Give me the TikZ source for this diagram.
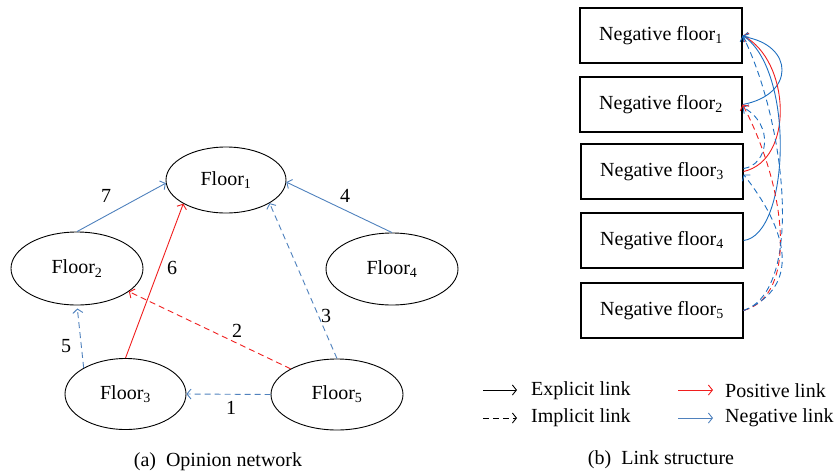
\documentclass[tikz,border=0pt]{standalone}
\usepackage{fontspec}
\setmainfont{Liberation Serif}
\usetikzlibrary{arrows.meta,shapes.geometric}
\definecolor{lblue}{HTML}{4F81BD}
\definecolor{rblue}{HTML}{1F6FC0}
\definecolor{lred}{HTML}{F01E1E}
\begin{document}
\begin{tikzpicture}[x=1pt,y=-1pt,
  font=\fontsize{20}{24}\selectfont,
  fl/.style={ellipse, draw, line width=0.9pt, inner sep=0pt},
  box/.style={draw, line width=1.2pt, minimum width=162pt, minimum height=55pt, inner sep=0pt},
  lk/.style={line width=0.9pt, -{Straight Barb[length=4pt,width=10pt]}},
  imp/.style={dash pattern=on 6pt off 4pt},
  lab/.style={inner sep=0pt}]
\useasboundingbox (0,0) rectangle (839,475);
% (a) opinion network
\node[fl, minimum width=120pt, minimum height=66pt] (f1) at (226,180) {Floor\textsubscript{1}};
\node[fl, minimum width=132pt, minimum height=73pt] (f2) at (77,268.5) {Floor\textsubscript{2}};
\node[fl, minimum width=121pt, minimum height=71pt] (f3) at (125.5,394) {Floor\textsubscript{3}};
\node[fl, minimum width=132pt, minimum height=72pt] (f4) at (392,269) {Floor\textsubscript{4}};
\node[fl, minimum width=132pt, minimum height=71pt] (f5) at (337,394.5) {Floor\textsubscript{5}};
\draw[lk,lblue] (f2.north) -- (f1.183);
\draw[lk,lblue] (f4.north) -- (f1.358);
\draw[lk,lred] (f3.north) -- (f1.209);
\draw[lk,lblue,imp] (f5.north) -- (f1.332);
\draw[lk,lred,imp] (f5.151) -- (f2.336);
\draw[lk,lblue,imp,shorten >=3pt] (f3.148) -- (f2.south);
\draw[lk,lblue,imp] (f5.west) -- (f3.east);
\node[lab] (n7) at (106,196) {7};
\node[lab] (n4) at (345,196) {4};
\node[lab] (n6) at (172,268) {6};
\node[lab] (n3) at (326,316) {3};
\node[lab] (n2) at (237,331) {2};
\node[lab] (n5) at (66,346) {5};
\node[lab] (n1) at (231,408) {1};
\node[lab] (capa) at (218,462) {(a)\enspace Opinion network};
% (b) link structure
\node[box] (b1) at (661,35.5) {Negative floor\textsubscript{1}};
\node[box] (b2) at (661,104.5) {Negative floor\textsubscript{2}};
\node[box] (b3) at (662,171.5) {Negative floor\textsubscript{3}};
\node[box] (b4) at (662,240.5) {Negative floor\textsubscript{4}};
\node[box] (b5) at (662,310.5) {Negative floor\textsubscript{5}};
\draw[lk,rblue] (b2.east) .. controls (795,95) and (795,45) .. ([yshift=-1pt]b1.east);
\draw[lk,lred] (b3.east) .. controls (795,160) and (790,60) .. (b1.east);
\draw[lk,rblue] (b4.east) .. controls (790,235) and (795,70) .. (b1.east);
\draw[lk,rblue,imp] (b5.east) .. controls (805,290) and (785,120) .. (b1.east);
\draw[lk,rblue,imp] ([yshift=3pt]b3.east) .. controls (768,165) and (775,125) .. ([yshift=-2.5pt]b2.east);
\draw[lk,lred,imp] (b5.east) .. controls (800,295) and (785,185) .. (b2.east);
\draw[lk,rblue,imp] (b5.east) .. controls (795,290) and (795,240) .. ([yshift=-3pt]b3.east);
% legend
\coordinate (e1) at (483,390); \coordinate (e2) at (517,390);
\coordinate (i1) at (483,418); \coordinate (i2) at (517,418);
\coordinate (p1) at (678,390); \coordinate (p2) at (713,390);
\coordinate (q1) at (678,418); \coordinate (q2) at (713,418);
\draw[lk,black] (e1) -- (e2);
\draw[lk,black,imp] (i1) -- (i2);
\draw[lk,lred] (p1) -- (p2);
\draw[lk,lblue] (q1) -- (q2);
\node[lab,anchor=west] (te) at (531,391) {Explicit link};
\node[lab,anchor=west] (ti) at (531,418) {Implicit link};
\node[lab,anchor=west] (tp) at (725,391) {Positive link};
\node[lab,anchor=west] (tn) at (725,418) {Negative link};
\node[lab] (capb) at (661,460) {(b)\enspace Link structure};
\end{tikzpicture}
\end{document}
